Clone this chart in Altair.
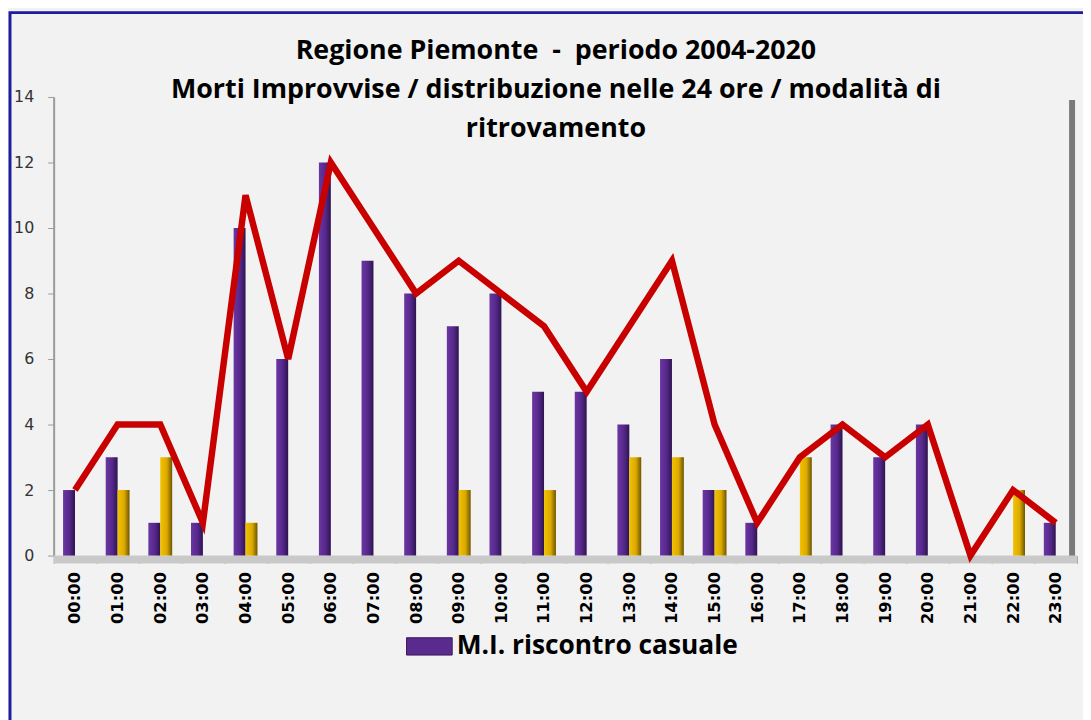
import altair as alt
import pandas as pd

hours = ["00:00", "01:00", "02:00", "03:00", "04:00", "05:00", "06:00", "07:00",
         "08:00", "09:00", "10:00", "11:00", "12:00", "13:00", "14:00", "15:00",
         "16:00", "17:00", "18:00", "19:00", "20:00", "21:00", "22:00", "23:00"]
casuale = [2, 3, 1, 1, 10, 6, 12, 9, 8, 7, 8, 5, 5, 4, 6, 2, 1, 0, 4, 3, 4, 0, 0, 1]
altro = [0, 2, 3, 0, 1, 0, 0, 0, 0, 2, 0, 2, 0, 3, 3, 2, 0, 3, 0, 0, 0, 0, 2, 0]
totale = [2, 4, 4, 1, 11, 6, 12, 10, 8, 9, 8, 7, 5, 7, 9, 4, 1, 3, 4, 3, 4, 0, 2, 1]
title_lines = ["Regione Piemonte \u00a0-\u00a0 periodo 2004-2020",
               "Morti Improvvise / distribuzione nelle 24 ore / modalità di",
               "ritrovamento"]
legend_label = "M.I. riscontro casuale"

W, H = 1031, 462
df = pd.DataFrame({"ora": hours, "casuale": casuale, "altro": altro, "totale": totale})

xscale = alt.Scale(domain=hours, paddingInner=0, paddingOuter=0)
yscale = alt.Scale(domain=[0, 14], nice=False)

base = alt.Chart(df)
one = alt.Data(values=[{}])

frame = alt.Chart(one).mark_rect(
    fill="transparent", stroke="#1c1c9e", strokeWidth=3
).encode(x=alt.value(-44), x2=alt.value(1100), y=alt.value(-85), y2=alt.value(700))

floor = alt.Chart(one).mark_rect(fill="#c9c9c9").encode(
    x=alt.value(0), x2=alt.value(W), y=alt.value(H), y2=alt.value(H + 8))

shadow = alt.Chart(one).mark_rect(fill="#7a7a7a").encode(
    x=alt.value(W - 8), x2=alt.value(W - 2), y=alt.value(3), y2=alt.value(H + 4))

title_layers = []
for i, t in enumerate(title_lines):
    title_layers.append(
        alt.Chart(one).mark_text(text=t, font="Open Sans", fontSize=27, fontWeight="bold",
                                 color="#000000", align="center", baseline="alphabetic")
        .encode(x=alt.value(506), y=alt.value(-38 + 39 * i))
    )

purple_grad = alt.Gradient(gradient="linear", x1=0, x2=1, y1=0, y2=0,
                           stops=[alt.GradientStop(color="#6b36a3", offset=0),
                                  alt.GradientStop(color="#55288a", offset=0.55),
                                  alt.GradientStop(color="#2e1450", offset=1)])
yellow_grad = alt.Gradient(gradient="linear", x1=0, x2=1, y1=0, y2=0,
                           stops=[alt.GradientStop(color="#f2c200", offset=0),
                                  alt.GradientStop(color="#dcaa00", offset=0.55),
                                  alt.GradientStop(color="#6e5500", offset=1)])

bars_p = base.mark_bar(width=12, xOffset=-6, fill=purple_grad).encode(
    x=alt.X("ora:N", scale=xscale, sort=hours,
            axis=alt.Axis(title=None, labelAngle=-90, labelFont="DejaVu Sans",
                          labelFontWeight="bold", labelFontSize=16.5, labelColor="#000000",
                          domain=False, ticks=True, tickBand="extent", tickSize=8,
                          tickColor="#a8a8a8", labelPadding=8)),
    y=alt.Y("casuale:Q", scale=yscale,
            axis=alt.Axis(title=None, values=[0, 2, 4, 6, 8, 10, 12, 14], grid=False,
                          labelFont="DejaVu Sans", labelFontSize=16, labelColor="#333333",
                          domainColor="#9a9a9a", domainWidth=2, tickColor="#9a9a9a",
                          tickSize=6, labelPadding=14)),
)

bars_y = base.mark_bar(width=12, xOffset=6, fill=yellow_grad).encode(
    x=alt.X("ora:N", scale=xscale, sort=hours),
    y=alt.Y("altro:Q", scale=yscale),
)

line = base.mark_line(color="#c80000", strokeWidth=6.5).encode(
    x=alt.X("ora:N", scale=xscale, sort=hours),
    y=alt.Y("totale:Q", scale=yscale),
)

legend_layer = alt.Chart(one).mark_square(opacity=0).encode(
    color=alt.Color("s:N", scale=alt.Scale(domain=[legend_label], range=["#5a2a8c"]),
                    legend=alt.Legend(title=None, orient="none", legendX=355, legendY=530,
                                      symbolType="M-1,-0.38H1V0.38H-1Z", symbolSize=2116,
                                      symbolOpacity=1, symbolStrokeColor="#3a1a60",
                                      symbolStrokeWidth=1,
                                      labelFont="Open Sans", labelFontWeight="bold",
                                      labelFontSize=26.5, labelColor="#000000",
                                      labelLimit=500))
).transform_calculate(s=f"'{legend_label}'")

chart = alt.layer(frame, shadow, floor, bars_p, bars_y, line, legend_layer,
                  *title_layers).properties(
    width=W, height=H,
    padding={"left": 46, "top": 87, "right": 6, "bottom": 163},
    autosize="none",
    background="#f2f2f2",
).configure_view(stroke=None, fill="#ffffff")

chart.save("out.html", embed_options={"renderer": "svg", "actions": False})
